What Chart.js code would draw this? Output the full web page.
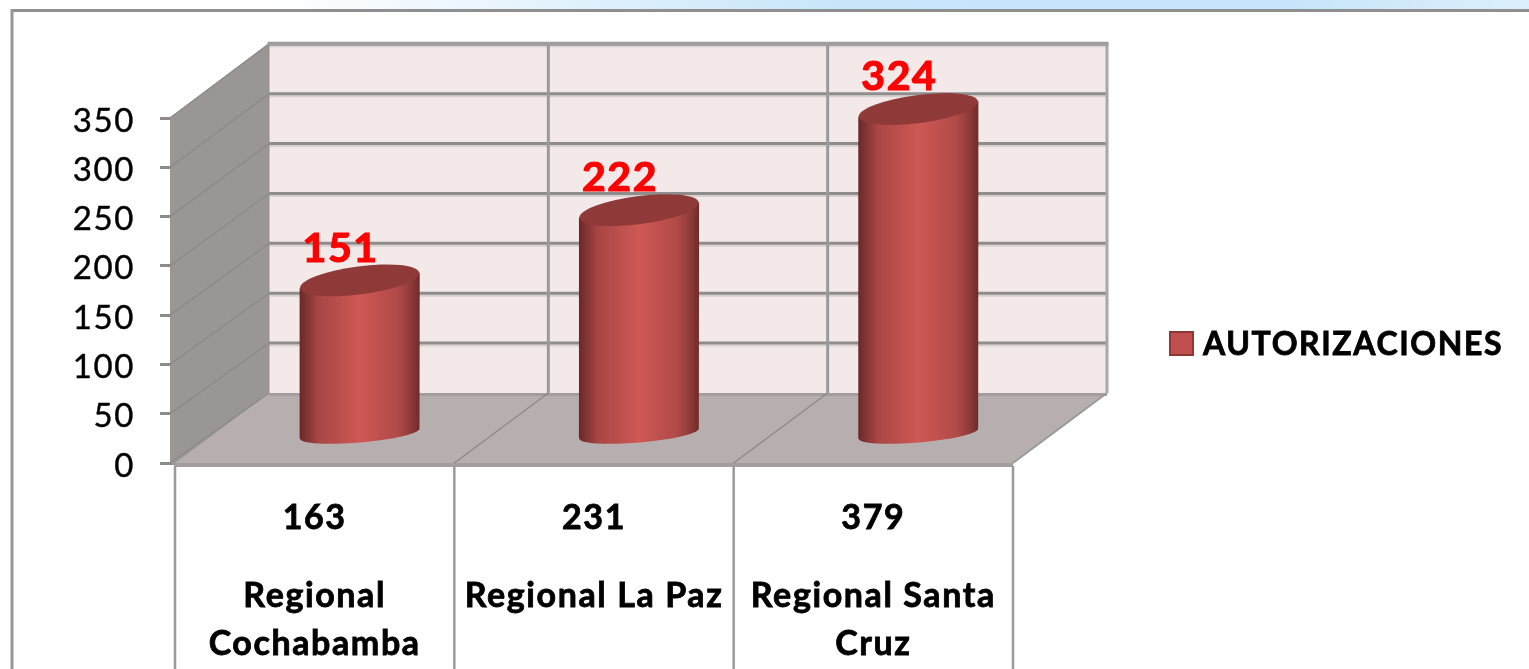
<!DOCTYPE html>
<html>
<head>
<meta charset="utf-8">
<title>Autorizaciones por regional</title>
<script src="https://cdn.jsdelivr.net/npm/chart.js@4"></script>
<style>
  html, body { margin: 0; padding: 0; background: #fff; overflow: hidden; }
  canvas { display: block; }
</style>
</head>
<body>
<canvas id="chart" width="1529" height="669"></canvas>
<script>
// values
var categories = [['Regional', 'Cochabamba'], 'Regional La Paz', ['Regional Santa', 'Cruz']];
var tableRow = ['163', '231', '379'];
var autorizaciones = [151, 222, 324];
var seriesName = 'AUTORIZACIONES';
var yTicks = [0, 50, 100, 150, 200, 250, 300, 350];

var FONT = 'Lato, Carlito, Calibri, sans-serif';
var DEPTH_X = 94, DEPTH_Y = 70;

// back wall is a little taller than the front plane
function backY(y, yPx) {
  return yPx - DEPTH_Y - (y.bottom - yPx) * 0.012;
}

function line(ctx, x1, y1, x2, y2, color, width) {
  ctx.strokeStyle = color;
  ctx.lineWidth = width;
  ctx.beginPath();
  ctx.moveTo(x1, y1);
  ctx.lineTo(x2, y2);
  ctx.stroke();
}

function poly(ctx, pts, color) {
  ctx.fillStyle = color;
  ctx.beginPath();
  pts.forEach(function(p, i) { if (i) ctx.lineTo(p[0], p[1]); else ctx.moveTo(p[0], p[1]); });
  ctx.closePath();
  ctx.fill();
}

var frame3d = {
  id: 'frame3d',
  beforeDraw: function(chart) {
    var ctx = chart.ctx;
    // the original font runs wider than Lato
    ctx.letterSpacing = '1.6px';

    // labels sit a bit under their tick marks
    chart.scales.y.getLabelItems().forEach(function(item) {
      if (!item.moved) {
        item.options.translation[1] += 3;
        item.moved = true;
      }
    });

    // pale blue strip and slide frame behind the chart
    var g = ctx.createLinearGradient(270, 0, 1529, 0);
    g.addColorStop(0, '#ffffff');
    g.addColorStop(0.45, '#c8e6fa');
    g.addColorStop(0.8, '#c6e5fa');
    g.addColorStop(1, '#dceffc');
    ctx.fillStyle = g;
    ctx.fillRect(0, 0, 1529, 10);
    line(ctx, 11, 10.5, 1529, 10.5, '#8f8f8f', 3);
    line(ctx, 12, 9, 12, 669, '#969696', 3);
  },
  beforeDatasetsDraw: function(chart) {
    var ctx = chart.ctx, x = chart.scales.x, y = chart.scales.y;
    var left = x.left, right = x.right, bottom = y.bottom, top = y.top;
    var wallLeft = left - 5;
    var bl = left + DEPTH_X, br = right + DEPTH_X;
    var bBottom = backY(y, bottom), bTop = backY(y, top);
    var step = (right - left) / categories.length;

    // side wall, back wall, floor
    poly(ctx, [[wallLeft, top], [bl, bTop], [bl, bBottom], [left, bottom + 3], [wallLeft, bottom]], '#9a9696');
    ctx.fillStyle = '#f4e9e9';
    ctx.fillRect(bl, bTop, br - bl, bBottom - bTop);
    poly(ctx, [[left, bottom], [bl, bBottom], [br, bBottom], [right, bottom]], '#b7afaf');
    ctx.fillStyle = '#a39d9d';
    ctx.fillRect(bl, bBottom, br - bl, 3);
    ctx.fillRect(left, bottom, right - left, 4);

    // gridlines on both walls
    yTicks.forEach(function(v) {
      var f = y.getPixelForValue(v), b = backY(y, f);
      line(ctx, wallLeft, f, bl, b, '#8c8a8a', 1.5);
      if (v > 0) {
        line(ctx, bl, b + 2.5, br, b + 2.5, '#d6d0d0', 2);
        line(ctx, bl, b, br, b, '#8f8c8c', 3);
      }
    });

    // dividers running across the floor and up the back wall
    for (var i = 1; i < categories.length; i++) {
      var fx = left + i * step;
      line(ctx, fx, bottom, fx + DEPTH_X, bBottom, '#8c8a8a', 1.5);
      line(ctx, fx + DEPTH_X, bTop, fx + DEPTH_X, bBottom, '#9a9a9a', 3);
    }
    line(ctx, right, bottom, br, bBottom, '#9a9a9a', 2);
    line(ctx, br, bTop, br, bBottom, '#a8a8a8', 3);
    line(ctx, bl - 1.5, bTop, br + 1.5, bTop, '#a09c9c', 4);
    line(ctx, bl, bTop, bl, bBottom, '#949090', 1);
  },
  afterDatasetsDraw: function(chart) {
    var ctx = chart.ctx;
    var meta = chart.getDatasetMeta(0);

    meta.data.forEach(function(bar, i) {
      var cx = bar.x + 45, rx = bar.width / 2;
      var baseY = bar.base - 29;
      var topY = bar.base - 33 - (bar.base - bar.y) * 1.005;
      var topTilt = -0.13, baseTilt = -0.085;

      var g = ctx.createLinearGradient(cx - rx, 0, cx + rx, 0);
      g.addColorStop(0, '#682828');
      g.addColorStop(0.05, '#7e3231');
      g.addColorStop(0.16, '#a84644');
      g.addColorStop(0.5, '#ce5855');
      g.addColorStop(0.82, '#b04a48');
      g.addColorStop(0.93, '#8c3a38');
      g.addColorStop(1, '#6e2b2b');

      var topDy = Math.sin(-topTilt) * rx, baseDy = Math.sin(-baseTilt) * rx;
      ctx.fillStyle = g;
      ctx.beginPath();
      ctx.moveTo(cx - rx, topY + topDy);
      ctx.lineTo(cx - rx, baseY + baseDy);
      ctx.ellipse(cx, baseY, rx, 9, baseTilt, Math.PI, 0, true);
      ctx.lineTo(cx + rx, topY - topDy);
      ctx.closePath();
      ctx.fill();

      ctx.fillStyle = '#8f3a39';
      ctx.beginPath();
      ctx.ellipse(cx, topY, rx, 14, topTilt, 0, Math.PI * 2);
      ctx.fill();

      // value label above the cylinder
      ctx.fillStyle = '#ff0000';
      ctx.strokeStyle = '#ff0000';
      ctx.lineWidth = 1.2;
      ctx.font = 'bold 41px ' + FONT;
      ctx.textAlign = 'center';
      ctx.textBaseline = 'middle';
      ctx.fillText(String(autorizaciones[i]), cx - 19, topY - 32);
      ctx.strokeText(String(autorizaciones[i]), cx - 19, topY - 32);
    });
  },
  afterDraw: function(chart) {
    var ctx = chart.ctx, x = chart.scales.x, y = chart.scales.y;
    var step = (x.right - x.left) / categories.length;
    // data table dividers below the floor
    for (var i = 0; i <= categories.length; i++) {
      var fx = x.left + i * step;
      line(ctx, fx, y.bottom + 3, fx, 669, '#9a9a9a', 2.5);
    }
    // legend
    ctx.fillStyle = '#c0504d';
    ctx.strokeStyle = '#8c3836';
    ctx.lineWidth = 2;
    ctx.fillRect(1170, 332, 23, 23);
    ctx.strokeRect(1170, 332, 23, 23);
    ctx.fillStyle = '#000';
    ctx.strokeStyle = '#000';
    ctx.lineWidth = 0.8;
    ctx.font = 'bold 32px ' + FONT;
    ctx.textAlign = 'left';
    ctx.textBaseline = 'middle';
    ctx.fillText(seriesName, 1203, 345);
    ctx.strokeText(seriesName, 1203, 345);
  }
};

new Chart(document.getElementById('chart'), {
  type: 'bar',
  data: {
    labels: tableRow,
    datasets: [{
      label: seriesName,
      data: autorizaciones,
      backgroundColor: 'rgba(0,0,0,0)',
      borderWidth: 0,
      barPercentage: 0.43,
      categoryPercentage: 1,
      xAxisID: 'x',
      yAxisID: 'y'
    }]
  },
  options: {
    responsive: false,
    animation: false,
    layout: { padding: { top: 118, right: 516, left: 0, bottom: 0 } },
    plugins: { legend: { display: false }, tooltip: { enabled: false } },
    scales: {
      y: {
        min: 0,
        max: 350,
        afterFit: function(s) { s.width = 175; },
        ticks: { stepSize: 50, padding: 25, color: '#000', textStrokeColor: '#000', textStrokeWidth: 0.4, font: { family: FONT, size: 33 } },
        grid: { drawOnChartArea: false, tickLength: 15, tickWidth: 3, tickColor: '#8c8a8a' },
        border: { display: false }
      },
      x: {
        position: 'bottom',
        afterFit: function(s) { s.height = 80; },
        ticks: { padding: 27, maxRotation: 0, minRotation: 0, autoSkip: false, color: '#000', textStrokeColor: '#000', textStrokeWidth: 0.8, font: { family: FONT, size: 34, weight: 'bold' } },
        grid: { display: false },
        border: { display: false }
      },
      x2: {
        type: 'category',
        position: 'bottom',
        labels: categories,
        afterFit: function(s) { s.height = 126; },
        ticks: { padding: 21, maxRotation: 0, minRotation: 0, autoSkip: false, color: '#000', textStrokeColor: '#000', textStrokeWidth: 0.8, font: { family: FONT, size: 34, weight: 'bold', lineHeight: 1.41 } },
        grid: { display: false },
        border: { display: false }
      }
    }
  },
  plugins: [frame3d]
});
</script>
</body>
</html>
